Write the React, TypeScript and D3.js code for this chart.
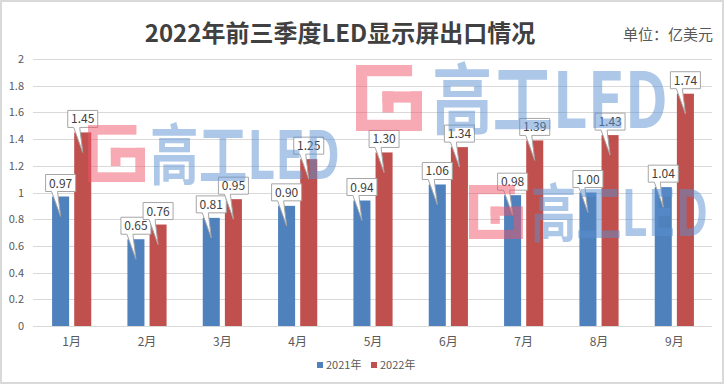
import React from 'react';
import * as d3 from 'd3';

const months = ['1月', '2月', '3月', '4月', '5月', '6月', '7月', '8月', '9月'];
const seriesNames = ['2021年', '2022年'];
const values2021 = [0.97, 0.65, 0.81, 0.9, 0.94, 1.06, 0.98, 1.0, 1.04];
const values2022 = [1.45, 0.76, 0.95, 1.25, 1.3, 1.34, 1.39, 1.43, 1.74];
const yTicks = [0, 0.2, 0.4, 0.6, 0.8, 1, 1.2, 1.4, 1.6, 1.8, 2];
const colors = ['#4F81BD', '#C0504D'];

const W = 725;
const H = 386;
const FONT = '"Noto Sans CJK SC", "Noto Sans", sans-serif';

// watermark placement (top-left of logo, logo size, text start / width)
const marks = [
  { x: 88, y: 125, s: 57, tx: 150, tw: 190 },
  { x: 356, y: 65, s: 66, tx: 432, tw: 236 },
  { x: 469, y: 185, s: 54, tx: 531, tw: 177 },
];

const Logo = ({ x, y, s }: { x: number; y: number; s: number }) => {
  const t = 0.17;
  const rects = [
    [0, 0, 0.85, t],
    [0, 0, t, 1],
    [0, 1 - t, 1, t],
    [1 - t, 0.4, t, 0.6],
    [0.4, 0.4, 0.6, t],
    [0.4, 0.4, t, 0.32],
  ];
  return (
    <g transform={`translate(${x},${y})`}>
      {rects.map((r, i) => (
        <rect key={i} x={r[0] * s} y={r[1] * s} width={r[2] * s} height={r[3] * s} fill="#ef5468" />
      ))}
    </g>
  );
};

const App = () => {
  const x = d3.scaleBand<string>().domain(months).range([34, 712]).paddingInner(0.48).paddingOuter(0.24);
  const x1 = d3.scaleBand<string>().domain(seriesNames).range([0, x.bandwidth()]).paddingInner(0.23);
  const y = d3.scaleLinear().domain([0, 2]).range([326, 59]);
  const fmt = d3.format('.2f');
  const series = [values2021, values2022];

  return (
    <svg width={W} height={H} style={{ position: 'absolute', left: 0, top: 0, background: '#fff' }} fontFamily={FONT}>
      <style>{`body{margin:0}`}</style>
      <rect x={0} y={0} width={W} height={H} fill="#fff" />
      <rect x={1} y={1} width={W - 3} height={H - 4} fill="none" stroke="#d9d9d9" strokeWidth={2} />

      <text x={340} y={42} textAnchor="middle" fontSize={24} fontWeight="bold" fill="#404040">
        2022年前三季度LED显示屏出口情况
      </text>
      <text x={713} y={40} textAnchor="end" fontSize={15} fill="#595959">
        单位：亿美元
      </text>

      {yTicks.map((t) => (
        <g key={t}>
          <line x1={33} x2={712} y1={Math.round(y(t)) + 0.5} y2={Math.round(y(t)) + 0.5} stroke="#d9d9d9" />
          <text x={24} y={y(t) + 4} textAnchor="end" fontSize={11} fill="#595959">
            {t}
          </text>
        </g>
      ))}

      {months.map((m, i) => (
        <g key={m}>
          {series.map((vals, j) => {
            const bx = (x(m) as number) + (x1(seriesNames[j]) as number);
            return (
              <rect key={j} x={bx} y={y(vals[i])} width={x1.bandwidth()} height={y(0) - y(vals[i])} fill={colors[j]} />
            );
          })}
          <text x={(x(m) as number) + x.bandwidth() / 2} y={346} textAnchor="middle" fontSize={12} fill="#595959">
            {m}
          </text>
        </g>
      ))}

      {months.map((m, i) =>
        series.map((vals, j) => {
          const cx = (x(m) as number) + (x1(seriesNames[j]) as number) + x1.bandwidth() / 2;
          const top = y(vals[i]);
          const b = top - 5;
          const bt = b - 17;
          const l = cx - 15;
          const r = cx + 15;
          const d = `M${l},${bt}H${r}V${b}H${cx - 3}L${cx},${top + 20}L${cx - 9},${b}H${l}Z`;
          return (
            <g key={`${m}-${j}`}>
              <path d={d} fill="#fff" stroke="#a6a6a6" strokeWidth={1} />
              <text x={cx} y={bt + 13} textAnchor="middle" fontSize={12} fill="#404040">
                {fmt(vals[i])}
              </text>
            </g>
          );
        })
      )}

      <g opacity={0.5}>
        {marks.map((mk, i) => (
          <g key={i}>
            <Logo x={mk.x} y={mk.y} s={mk.s} />
            <text
              x={mk.tx}
              y={mk.y + mk.s - 3}
              fontSize={mk.s / 0.86}
              fontWeight="bold"
              fill="#5b8fd0"
              textLength={mk.tw}
              lengthAdjust="spacingAndGlyphs"
            >
              高工LED
            </text>
          </g>
        ))}
      </g>

      {seriesNames.map((s, j) => (
        <g key={s} transform={`translate(${317 + j * 54},362)`}>
          <rect x={0} y={0} width={6} height={6} fill={colors[j]} />
          <text x={9} y={7} fontSize={11} fill="#595959">
            {s}
          </text>
        </g>
      ))}
    </svg>
  );
};

export default App;
